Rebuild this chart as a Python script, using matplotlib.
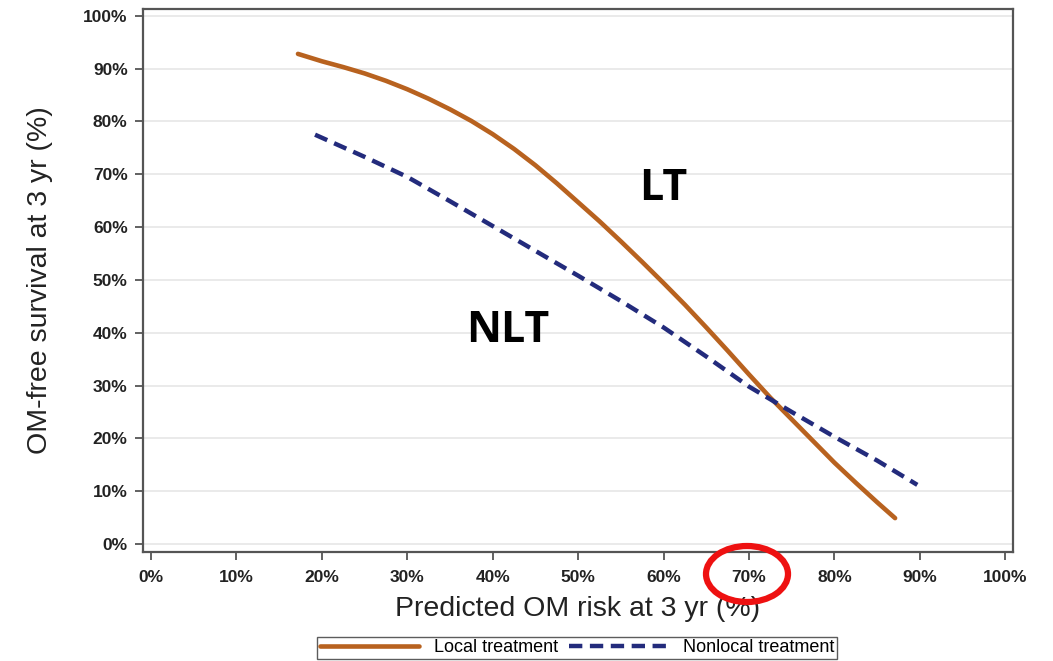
import matplotlib
matplotlib.use('Agg')
import matplotlib.pyplot as plt
import matplotlib.ticker as mticker
from matplotlib.patches import Ellipse

# ── Data (percent) ───────────────────────────────────────────
lt_risk = [17.2, 20, 22.5, 25, 27.5, 30, 32.5, 35, 37.5, 40, 42.5, 45, 47.5, 50,
           52.5, 55, 57.5, 60, 62.5, 65, 67.5, 70, 72.5, 75, 77.5, 80, 82.5, 85, 87.1]
lt_surv = [92.8, 91.4, 90.3, 89.1, 87.7, 86.1, 84.3, 82.3, 80.1, 77.6, 74.8, 71.7, 68.3, 64.7,
           61.1, 57.3, 53.4, 49.4, 45.3, 41.0, 36.6, 32.1, 27.7, 23.6, 19.5, 15.4, 11.6, 7.9, 4.9]

nlt_risk = [19.2, 25, 30, 35, 40, 45, 50, 55, 60, 65, 70, 75, 80, 85, 89.7]
nlt_surv = [77.5, 73.3, 69.5, 64.9, 60.2, 55.5, 50.8, 46.0, 41.0, 35.5, 29.8, 25.0, 20.3, 15.8, 11.2]

ticks = list(range(0, 101, 10))

ORANGE = '#B8621F'
NAVY = '#232B7C'
FRAME = '#555555'

plt.rcParams['font.family'] = ['Liberation Sans', 'DejaVu Sans']

fig = plt.figure(figsize=(10.53, 6.61), dpi=100)
ax = fig.add_axes([0.1358, 0.165, 0.8262, 0.8214])

ax.plot(lt_risk, lt_surv, color=ORANGE, lw=3.3, solid_capstyle='round',
        solid_joinstyle='round', label='Local treatment', zorder=3)
ax.plot(nlt_risk, nlt_surv, color=NAVY, lw=3.2, ls=(0, (3.0, 1.7)),
        label='Nonlocal treatment', zorder=3)

ax.set_xlim(-0.94, 100.9)
ax.set_ylim(-1.5, 101.3)
ax.set_xticks(ticks)
ax.set_yticks(ticks)
ax.xaxis.set_major_formatter(mticker.FormatStrFormatter('%d%%'))
ax.yaxis.set_major_formatter(mticker.FormatStrFormatter('%d%%'))
ax.tick_params(direction='out', length=6, width=1.3, color=FRAME,
               labelsize=12.5, labelcolor='#222222')
ax.tick_params(axis='x', pad=7)
ax.tick_params(axis='y', pad=5)
for lab in ax.get_xticklabels() + ax.get_yticklabels():
    lab.set_fontweight('bold')

ax.grid(axis='y', color='#E6E6E6', lw=1.2)
ax.set_axisbelow(True)
for sp in ax.spines.values():
    sp.set_color(FRAME)
    sp.set_linewidth(1.6)

ax.set_xlabel('Predicted OM risk at 3 yr (%)', fontsize=20.5, color='#222222', labelpad=8)
ax.set_ylabel('OM-free survival at 3 yr (%)', fontsize=20.5, color='#222222', labelpad=22)

# curve annotations
ax.text(60, 67.4, 'LT', fontsize=31, fontweight='bold', family='Open Sans',
        ha='center', va='center', color='black')
ax.text(41.7, 40.5, 'NLT', fontsize=31, fontweight='bold', family='Open Sans',
        ha='center', va='center', color='black')

leg = fig.legend(loc='lower center', bbox_to_anchor=(0.548, 0.0), ncol=2,
                 fontsize=13, frameon=True, fancybox=False, edgecolor='#333333',
                 handlelength=5.5, handletextpad=0.8, columnspacing=0.6,
                 borderpad=0.15, borderaxespad=0.1)
leg.get_frame().set_linewidth(1.0)

# highlight around the 70% tick label
fig.patches.append(Ellipse((747 / 1053, 1 - 574 / 661), 82 / 1053, 56 / 661,
                           transform=fig.transFigure, fill=False,
                           edgecolor='#EE1111', lw=4.5))

fig.savefig('out.png', dpi=100, facecolor='white')
